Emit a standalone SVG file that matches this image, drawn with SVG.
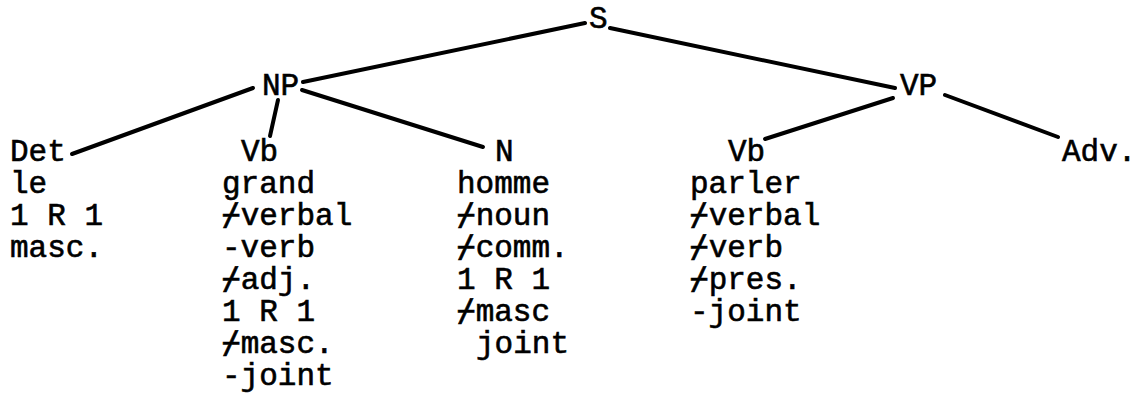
<svg xmlns="http://www.w3.org/2000/svg" width="1139" height="394" viewBox="0 0 1139 394">
<style>
text{font-family:"Liberation Mono","DejaVu Sans Mono",monospace;font-size:31px;fill:#000;stroke:#000;stroke-width:0.6}
.e{stroke:#000;stroke-width:4;stroke-linecap:round;fill:none}
</style>
<rect width="1139" height="394" fill="#fff"/>
<g id="connectors">
<line class="e" x1="585" y1="23" x2="303" y2="82"/>
<line class="e" x1="610" y1="28" x2="895" y2="88"/>
<line class="e" x1="253" y1="88" x2="72" y2="154"/>
<line class="e" x1="278" y1="100" x2="270" y2="136"/>
<line class="e" x1="302" y1="90" x2="483" y2="147"/>
<line class="e" x1="893" y1="98" x2="765" y2="139"/>
<line class="e" x1="945" y1="95" x2="1058" y2="137"/>
</g>
<g id="S"><text x="589" y="28">S</text></g>
<g id="NP"><text x="262" y="95">NP</text></g>
<g id="VP"><text x="900" y="95">VP</text></g>
<g id="Det">
<text x="10" y="161">Det</text>
<text x="10" y="193">le</text>
<text x="10" y="225">1 R 1</text>
<text x="10" y="257">masc.</text>
</g>
<g id="Vb1">
<text x="241" y="161">Vb</text>
<text x="222" y="193">grand</text>
<text x="222" y="225">⌿verbal</text>
<text x="222" y="257">-verb</text>
<text x="222" y="289">⌿adj.</text>
<text x="222" y="321">1 R 1</text>
<text x="222" y="353">⌿masc.</text>
<text x="222" y="385">-joint</text>
</g>
<g id="N">
<text x="495" y="161">N</text>
<text x="457" y="193">homme</text>
<text x="457" y="225">⌿noun</text>
<text x="457" y="257">⌿comm.</text>
<text x="457" y="289">1 R 1</text>
<text x="457" y="321">⌿masc</text>
<text x="476" y="353">joint</text>
</g>
<g id="Vb2">
<text x="728" y="161">Vb</text>
<text x="690" y="193">parler</text>
<text x="690" y="225">⌿verbal</text>
<text x="690" y="257">⌿verb</text>
<text x="690" y="289">⌿pres.</text>
<text x="690" y="321">-joint</text>
</g>
<g id="Adv"><text x="1062" y="161">Adv.</text></g>
</svg>
